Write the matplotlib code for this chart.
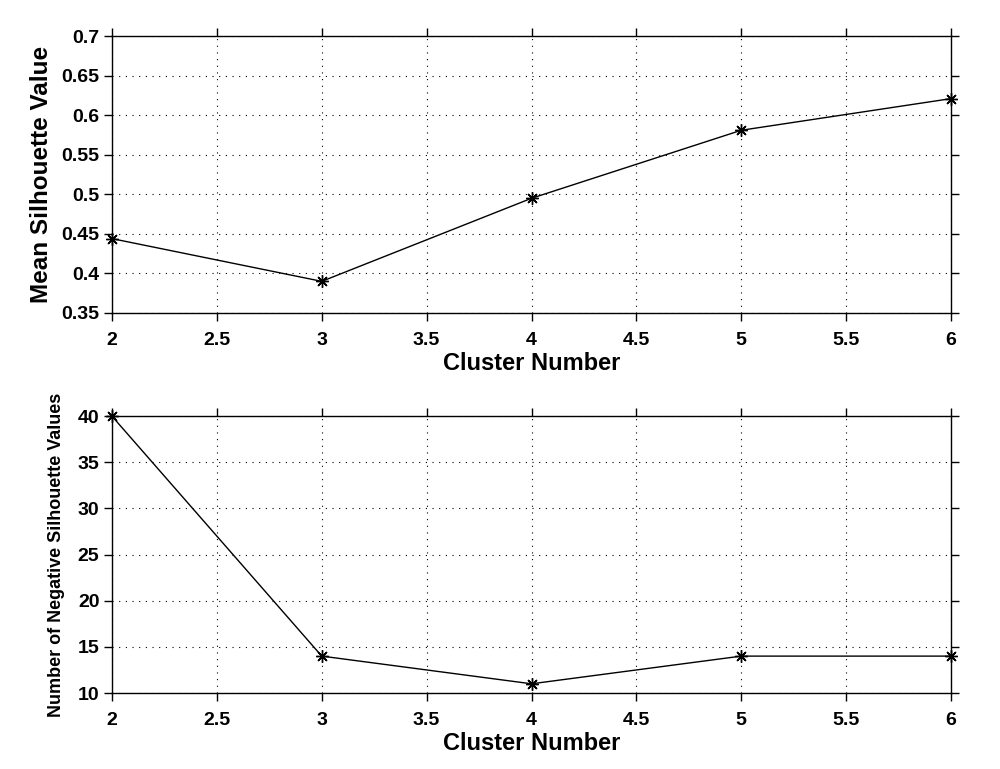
import matplotlib.pyplot as plt
from matplotlib.ticker import FuncFormatter

plt.rcParams['font.family'] = ['Liberation Sans', 'DejaVu Sans']
plt.rcParams['font.weight'] = 'bold'

clusters = [2, 3, 4, 5, 6]
mean_sil = [0.444, 0.390, 0.495, 0.581, 0.621]
neg_count = [40, 14, 11, 14, 14]

xticks = [2, 2.5, 3, 3.5, 4, 4.5, 5, 5.5, 6]
yticks_top = [0.35, 0.4, 0.45, 0.5, 0.55, 0.6, 0.65, 0.7]
yticks_bot = [10, 15, 20, 25, 30, 35, 40]

fmt = FuncFormatter(lambda v, p: '%g' % v)
star = (8, 2, 0)

fig = plt.figure(figsize=(10, 7.69), dpi=100)
ax1 = fig.add_axes([0.112, 0.593, 0.839, 0.360])
ax2 = fig.add_axes([0.112, 0.0988, 0.839, 0.360])

def style(ax, yt, ylab, ylabsize, ylabpad):
    ax.set_xlim(2, 6)
    ax.set_xticks(xticks)
    ax.set_yticks(yt)
    ax.set_ylim(yt[0], yt[-1])
    ax.xaxis.set_major_formatter(fmt)
    ax.yaxis.set_major_formatter(fmt)
    ax.grid(True, color='black', linestyle=(0, (1, 5)), linewidth=0.8)
    ax.tick_params(direction='out', length=6, width=1, labelsize=14,
                   top=True, right=True)
    ax.tick_params(axis='x', pad=8)
    ax.tick_params(axis='y', pad=3)
    for lab in ax.get_xticklabels() + ax.get_yticklabels():
        lab.set_fontweight('bold')
    for s in ax.spines.values():
        s.set_linewidth(1)
    ax.set_xlabel('Cluster Number', fontsize=17, fontweight='bold', labelpad=2)
    ax.set_ylabel(ylab, fontsize=ylabsize, fontweight='bold', labelpad=ylabpad)

ax1.plot(clusters, mean_sil, color='black', linewidth=1, marker=star,
         markersize=9, markeredgewidth=1, clip_on=False)
style(ax1, yticks_top, 'Mean Silhouette Value', 17.5, 6)

ax2.plot(clusters, neg_count, color='black', linewidth=1, marker=star,
         markersize=9, markeredgewidth=1, clip_on=False)
style(ax2, yticks_bot, 'Number of Negative Silhouette Values', 13, 9)

fig.savefig('out.png', dpi=100, facecolor='white')
